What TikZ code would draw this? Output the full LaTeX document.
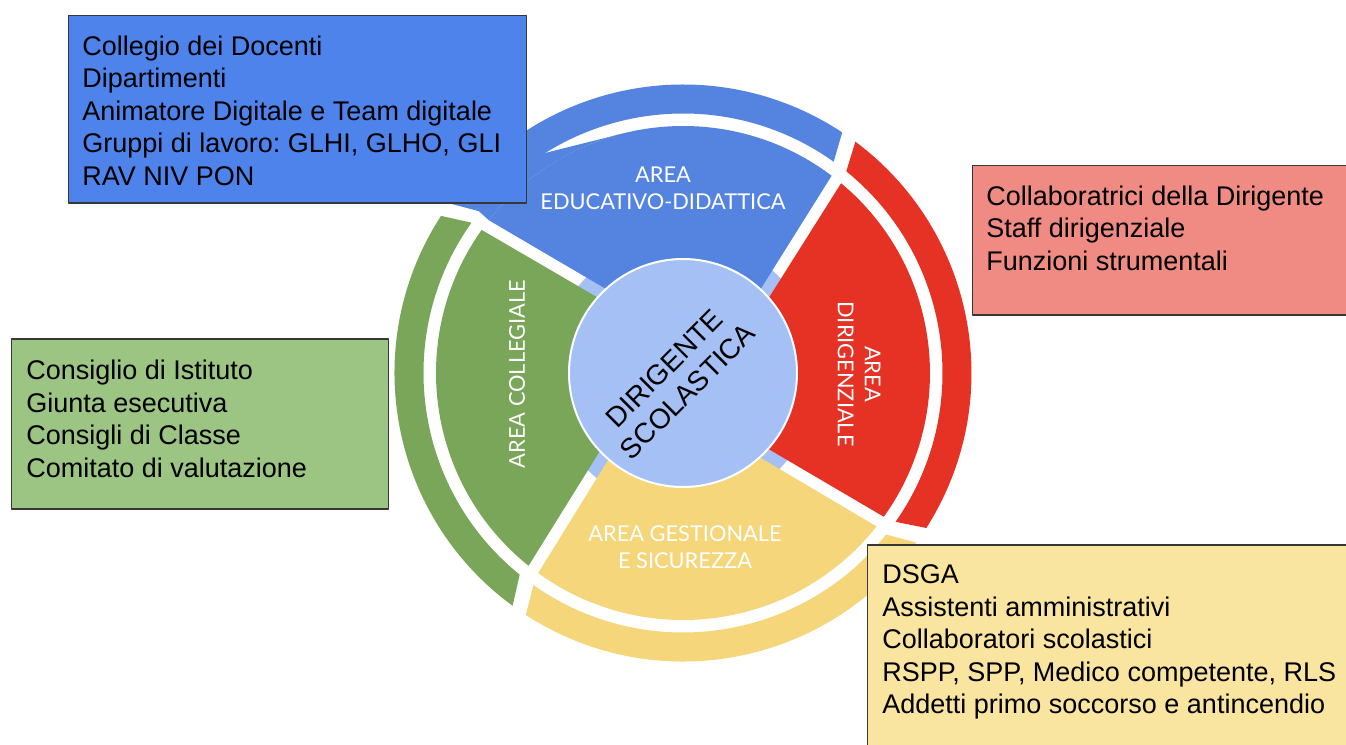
\documentclass[tikz,border=0pt]{standalone}
\usepackage{fontspec}
\setmainfont{Liberation Sans}
\newfontfamily\areafont{Lato}
\frenchspacing
\definecolor{areablue}{RGB}{85,132,224}
\definecolor{areared}{RGB}{230,50,36}
\definecolor{areagreen}{RGB}{122,166,89}
\definecolor{areayellow}{RGB}{245,214,122}
\definecolor{centreblue}{RGB}{164,192,244}
\definecolor{boxblue}{RGB}{77,131,235}
\definecolor{boxred}{RGB}{240,139,132}
\definecolor{boxgreen}{RGB}{156,196,130}
\definecolor{boxyellow}{RGB}{249,228,160}
\definecolor{boxline}{RGB}{55,55,55}
\begin{document}
\begin{tikzpicture}[x=0.5pt,y=0.5pt,line join=round,
	listbox/.style={draw=boxline,line width=0.75pt,anchor=north west,inner sep=0pt},
	listtext/.style={anchor=north west,align=left,inner sep=0pt,font=\fontsize{13.5}{16.25}\selectfont},
	areatext/.style={text=white,align=center,inner sep=0pt,font=\areafont\fontsize{10.9}{13.5}\selectfont}]
			\useasboundingbox (-683,-372) rectangle (663,373);
			\def\ring#1#2#3#4#5#6{(#1:#5) -- (#2:#6) arc[start angle=#2,end angle=#3,radius=#6] -- (#4:#5) arc[start angle=#4,end angle=#1,radius=#5] -- cycle}
			% outer bands
			\fill[areablue] \ring{54.5}{56.5}{144}{141.5}{259.5}{288.5};
			\fill[areared] \ring{-35}{-32.5}{53.3}{51}{259.5}{288.5};
			\fill[areagreen] \ring{144.6}{147}{233.8}{231}{259.5}{288.5};
			\fill[areayellow] \ring{234.8}{237}{324}{321.5}{259.5}{288.5};
			% tabs behind the centre
			\fill[centreblue] (0,0) circle (136);
			% inner areas
			\fill[areablue] \ring{47.2}{53}{141.8}{132.5}{114}{247};
			\fill[areablue] (104.8:247) -- (122.3:260) arc[start angle=122.3,end angle=141.6,radius=260] -- (141.8:247) arc[start angle=141.8,end angle=104.8,radius=247] -- cycle;
			\fill[areagreen] \ring{138.5}{144.6}{231.3}{223.2}{114}{247};
			\fill[areayellow] \ring{229.2}{234.1}{321.6}{312.3}{114}{247};
			\fill[areared] \ring{-41.7}{-35.6}{50.2}{41.2}{114}{247};
			% centre
			\node[circle,fill=centreblue,draw=white,line width=1pt,minimum size=114pt,inner sep=0pt] (ds) at (0,0) {};
			\node[rotate=45,align=center,inner sep=0pt,font=\fontsize{14}{16.5}\selectfont] (dstext) at (-7,-7) {DIRIGENTE\\SCOLASTICA};
			\node[areatext] (educlabel) at (-20,184.5) {AREA\\EDUCATIVO-DIDATTICA};
			\node[areatext,rotate=90] (colllabel) at (-166,-1) {AREA COLLEGIALE};
			\node[areatext,rotate=-90] (dirlabel) at (176,-1) {AREA\\DIRIGENZIALE};
			\node[areatext] (gestlabel) at (2,-174.5) {AREA GESTIONALE\\E SICUREZZA};
			% lists
			\node[listbox,fill=boxblue,minimum width=229pt,minimum height=93.5pt] (educbox) at (-615,358) {};
			\node[listtext] (eductext) at ([xshift=7pt,yshift=-10.2pt]educbox.north west) {Collegio dei Docenti\\Dipartimenti\\Animatore Digitale e Team digitale\\Gruppi di lavoro: GLHI, GLHO, GLI\\RAV NIV PON};
			\node[listbox,fill=boxred,minimum width=190pt,minimum height=74.5pt] (dirbox) at (289,208) {};
			\node[listtext] (dirtext) at ([xshift=7pt,yshift=-10.2pt]dirbox.north west) {Collaboratrici della Dirigente\\Staff dirigenziale\\Funzioni strumentali};
			\node[listbox,fill=boxgreen,minimum width=188.5pt,minimum height=85pt] (collbox) at (-672,35) {};
			\node[listtext] (colltext) at ([xshift=7.5pt,yshift=-11pt]collbox.north west) {Consiglio di Istituto\\Giunta esecutiva\\Consigli di Classe\\Comitato di valutazione};
			\node[listbox,fill=boxyellow,minimum width=245pt,minimum height=105pt] (gestbox) at (184,-171) {};
			\node[listtext] (gesttext) at ([xshift=7.5pt,yshift=-10.2pt]gestbox.north west) {DSGA\\Assistenti amministrativi\\Collaboratori scolastici\\RSPP, SPP, Medico competente, RLS\\Addetti primo soccorso e antincendio};
			\end{tikzpicture}
\end{document}
